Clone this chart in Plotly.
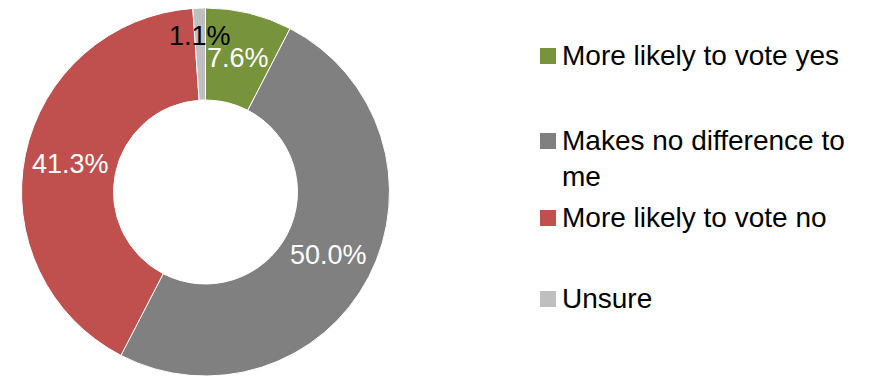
import math
import plotly.graph_objects as go

# Data
categories = ["More likely to vote yes", "Makes no difference to me", "More likely to vote no", "Unsure"]
legend_labels = ["More likely to vote yes", "Makes no difference to<br>me", "More likely to vote no", "Unsure"]
values = [7.6, 50.0, 41.3, 1.1]
value_labels = ["7.6%", "50.0%", "41.3%", "1.1%"]

# Styles
colors = ["#77933C", "#808080", "#C0504D", "#BFBFBF"]
label_colors = ["white", "white", "white", "black"]
label_radius = [0.75, 0.75, 0.75, 0.85]  # fraction of outer radius
W, H = 889, 381
FONT = "Liberation Sans, Arial, sans-serif"

cx, cy, R = 205.5, 192.0, 184.0  # pixel geometry of donut
hole = 0.5

fig = go.Figure()
fig.add_trace(go.Pie(
    labels=categories,
    values=values,
    sort=False,
    direction="clockwise",
    rotation=0,
    hole=hole,
    marker=dict(colors=colors, line=dict(color="white", width=1)),
    textinfo="none",
    hoverinfo="label+percent",
    showlegend=False,
    domain=dict(x=[(cx - R) / W, (cx + R) / W], y=[(H - cy - R) / H, (H - cy + R) / H]),
))

annotations = []
total = sum(values)
cum = 0.0
for v, lab, col, rf in zip(values, value_labels, label_colors, label_radius):
    mid = (cum + v / 2) / total * 2 * math.pi
    cum += v
    px = cx + rf * R * math.sin(mid)
    py = cy - rf * R * math.cos(mid)
    annotations.append(dict(
        x=px / W, y=(H - py) / H, xref="paper", yref="paper",
        text=lab, showarrow=False, xanchor="center", yanchor="middle",
        font=dict(family=FONT, size=27, color=col),
    ))

# Legend (drawn manually to match spacing)
legend_y = [56, 141, 218, 299]
shapes = []
for lab, col, ly in zip(legend_labels, colors, legend_y):
    shapes.append(dict(
        type="rect", xref="paper", yref="paper",
        x0=540 / W, x1=556 / W, y0=(H - ly - 8) / H, y1=(H - ly + 8) / H,
        fillcolor=col, line=dict(width=0),
    ))
    annotations.append(dict(
        x=560 / W, y=(H - ly + 18) / H, xref="paper", yref="paper",
        text=lab, showarrow=False, xanchor="left", yanchor="top", align="left",
        font=dict(family=FONT, size=28, color="black"),
    ))

fig.update_layout(
    width=W, height=H, autosize=False,
    margin=dict(l=0, r=0, t=0, b=0),
    paper_bgcolor="white", plot_bgcolor="white",
    annotations=annotations, shapes=shapes,
    font=dict(family=FONT),
)

fig.write_html("out.html", config={"displayModeBar": False},
               post_script="document.body.style.margin='0';")
